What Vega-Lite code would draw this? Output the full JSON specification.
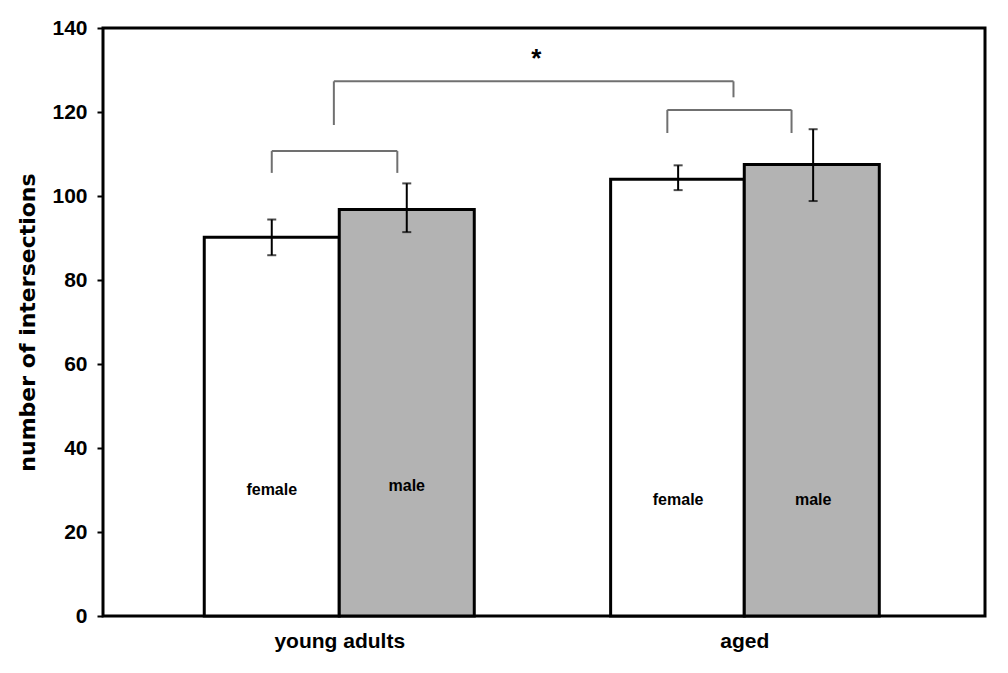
{
  "$schema": "https://vega.github.io/schema/vega-lite/v6.json",
  "width": 882,
  "height": 588,
  "autosize": {"type": "none"},
  "padding": {"left": 103, "top": 28, "right": 23, "bottom": 57},
  "background": "white",
  "config": {
    "view": {"stroke": "black", "strokeWidth": 3},
    "font": "Liberation Sans, Arial, sans-serif"
  },
  "datasets": {
    "bars": [
      {"group": "young adults", "sex": "female", "x1": 0.75, "x2": 1.75, "mean": 90.2, "lo": 85.9, "hi": 94.4, "xc": 1.25, "ly": 30},
      {"group": "young adults", "sex": "male", "x1": 1.75, "x2": 2.75, "mean": 96.8, "lo": 91.4, "hi": 103, "xc": 2.25, "ly": 31},
      {"group": "aged", "sex": "female", "x1": 3.76, "x2": 4.75, "mean": 104, "lo": 101.4, "hi": 107.3, "xc": 4.26, "ly": 27.6},
      {"group": "aged", "sex": "male", "x1": 4.75, "x2": 5.75, "mean": 107.5, "lo": 98.8, "hi": 115.9, "xc": 5.26, "ly": 27.6}
    ],
    "brackets": [
      {"x1": 1.25, "x2": 2.18, "y1": 110.7, "y2": 110.7},
      {"x1": 1.25, "x2": 1.25, "y1": 105.5, "y2": 110.7},
      {"x1": 2.18, "x2": 2.18, "y1": 105.5, "y2": 110.7},
      {"x1": 4.18, "x2": 5.1, "y1": 120.5, "y2": 120.5},
      {"x1": 4.18, "x2": 4.18, "y1": 115, "y2": 120.5},
      {"x1": 5.1, "x2": 5.1, "y1": 115, "y2": 120.5},
      {"x1": 1.71, "x2": 4.67, "y1": 127.3, "y2": 127.3},
      {"x1": 1.71, "x2": 1.71, "y1": 116.9, "y2": 127.3},
      {"x1": 4.67, "x2": 4.67, "y1": 123.5, "y2": 127.3}
    ],
    "stars": [{"x": 3.21, "y": 132.6, "label": "*"}]
  },
  "layer": [
    {
      "data": {"name": "bars"},
      "mark": {"type": "bar", "stroke": "black", "strokeWidth": 3},
      "encoding": {
        "x": {"field": "x1", "type": "quantitative", "scale": {"domain": [0, 6.533], "nice": false, "zero": false},
          "axis": {"values": [1.75, 4.75], "labelExpr": "datum.value < 3 ? 'young adults' : 'aged'", "domain": false, "ticks": false, "grid": false, "title": null, "labelFontSize": 21, "labelFontWeight": "bold", "labelColor": "black", "labelPadding": 14}},
        "x2": {"field": "x2"},
        "y": {"field": "mean", "type": "quantitative", "scale": {"domain": [0, 140], "nice": false},
          "axis": {"values": [0, 20, 40, 60, 80, 100, 120, 140], "grid": false, "domain": false, "tickSize": 6, "tickWidth": 2, "tickColor": "black", "labelFontSize": 21, "labelFontWeight": "bold", "labelColor": "black", "labelPadding": 10, "title": "number of intersections", "titleFont": "DejaVu Sans", "titleFontSize": 22, "titleFontWeight": "bold", "titleColor": "black", "titlePadding": 12}},
        "y2": {"datum": 0},
        "fill": {"field": "sex", "type": "nominal", "scale": {"domain": ["female", "male"], "range": ["#ffffff", "#b3b3b3"]}, "legend": null}
      }
    },
    {
      "data": {"name": "bars"},
      "mark": {"type": "rule", "color": "black", "strokeWidth": 2},
      "encoding": {
        "x": {"field": "xc", "type": "quantitative"},
        "y": {"field": "lo", "type": "quantitative"},
        "y2": {"field": "hi"}
      }
    },
    {
      "data": {"name": "bars"},
      "mark": {"type": "tick", "color": "black", "orient": "horizontal", "size": 9, "thickness": 2},
      "encoding": {
        "x": {"field": "xc", "type": "quantitative"},
        "y": {"field": "lo", "type": "quantitative"}
      }
    },
    {
      "data": {"name": "bars"},
      "mark": {"type": "tick", "color": "black", "orient": "horizontal", "size": 9, "thickness": 2},
      "encoding": {
        "x": {"field": "xc", "type": "quantitative"},
        "y": {"field": "hi", "type": "quantitative"}
      }
    },
    {
      "data": {"name": "bars"},
      "mark": {"type": "text", "fontSize": 16, "fontWeight": "bold", "color": "black", "baseline": "middle", "align": "center"},
      "encoding": {
        "x": {"field": "xc", "type": "quantitative"},
        "y": {"field": "ly", "type": "quantitative"},
        "text": {"field": "sex"}
      }
    },
    {
      "data": {"name": "brackets"},
      "mark": {"type": "rule", "color": "#707070", "strokeWidth": 2},
      "encoding": {
        "x": {"field": "x1", "type": "quantitative"},
        "x2": {"field": "x2"},
        "y": {"field": "y1", "type": "quantitative"},
        "y2": {"field": "y2"}
      }
    },
    {
      "data": {"name": "stars"},
      "mark": {"type": "text", "fontSize": 26, "fontWeight": "bold", "color": "black", "baseline": "middle", "align": "center"},
      "encoding": {
        "x": {"field": "x", "type": "quantitative"},
        "y": {"field": "y", "type": "quantitative"},
        "text": {"field": "label"}
      }
    }
  ]
}
